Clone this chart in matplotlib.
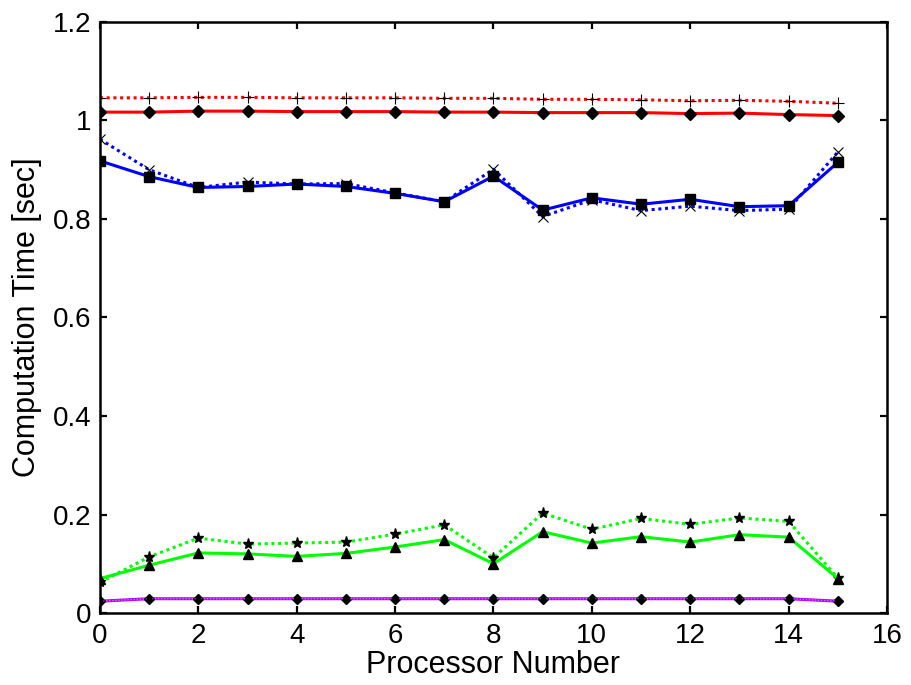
import matplotlib
matplotlib.use("Agg")
import matplotlib.pyplot as plt
import numpy as np

plt.rcParams['font.family'] = ['Liberation Sans', 'DejaVu Sans']

processors = list(range(16))
red_dotted = [1.046, 1.046, 1.047, 1.047, 1.046, 1.046, 1.046, 1.045, 1.045, 1.043, 1.043, 1.042, 1.040, 1.041, 1.039, 1.035]
red_solid = [1.017, 1.017, 1.019, 1.019, 1.018, 1.018, 1.018, 1.017, 1.017, 1.016, 1.016, 1.016, 1.014, 1.015, 1.012, 1.010]
blue_dotted = [0.962, 0.900, 0.864, 0.875, 0.871, 0.872, 0.853, 0.835, 0.901, 0.805, 0.839, 0.817, 0.826, 0.817, 0.820, 0.936]
blue_solid = [0.918, 0.886, 0.864, 0.866, 0.871, 0.866, 0.852, 0.835, 0.887, 0.818, 0.843, 0.830, 0.840, 0.825, 0.827, 0.915]
green_dotted = [0.062, 0.114, 0.152, 0.140, 0.142, 0.144, 0.160, 0.179, 0.112, 0.203, 0.170, 0.192, 0.180, 0.193, 0.186, 0.071]
green_solid = [0.070, 0.097, 0.122, 0.120, 0.115, 0.121, 0.134, 0.149, 0.100, 0.165, 0.142, 0.155, 0.144, 0.159, 0.154, 0.070]
purple_solid = [0.024, 0.029, 0.029, 0.029, 0.029, 0.029, 0.029, 0.029, 0.029, 0.029, 0.029, 0.029, 0.029, 0.029, 0.029, 0.024]
purple_dotted = [0.024, 0.029, 0.029, 0.029, 0.029, 0.029, 0.029, 0.029, 0.029, 0.029, 0.029, 0.029, 0.029, 0.029, 0.029, 0.024]

xticks = [0, 2, 4, 6, 8, 10, 12, 14, 16]
yticks = [0, 0.2, 0.4, 0.6, 0.8, 1.0, 1.2]
ytick_labels = ['0', '0.2', '0.4', '0.6', '0.8', '1', '1.2']

fig = plt.figure(figsize=(9.12, 6.85), dpi=100)
ax = fig.add_axes([0.1096, 0.1051, 0.8630, 0.8628])

lw = 2.2
ax.plot(processors, red_dotted, color='#FF0000', linestyle=(0, (1, 1.2)), linewidth=lw,
        marker='+', markersize=8, markeredgecolor='black', markeredgewidth=0.8)
ax.plot(processors, red_solid, color='#FF0000', linestyle='-', linewidth=lw,
        marker='D', markersize=6.5, markerfacecolor='black', markeredgecolor='black')
ax.plot(processors, blue_dotted, color='#0000FF', linestyle=(0, (1, 1.2)), linewidth=lw,
        marker='x', markersize=7, markeredgecolor='black', markeredgewidth=0.8)
ax.plot(processors, blue_solid, color='#0000FF', linestyle='-', linewidth=lw,
        marker='s', markersize=6.5, markerfacecolor='black', markeredgecolor='black')
ax.plot(processors, green_dotted, color='#00FF00', linestyle=(0, (1, 1.2)), linewidth=lw,
        marker='*', markersize=8, markerfacecolor='black', markeredgecolor='black')
ax.plot(processors, green_solid, color='#00FF00', linestyle='-', linewidth=lw,
        marker='^', markersize=7.5, markerfacecolor='black', markeredgecolor='black')
ax.plot(processors, purple_solid, color='#B400FF', linestyle='-', linewidth=lw,
        marker='D', markersize=5, markerfacecolor='black', markeredgecolor='black')
ax.plot(processors, purple_dotted, color='#D070FF', linestyle=(0, (1, 1.2)), linewidth=1.0,
        marker='o', markersize=3.5, markerfacecolor='black', markeredgecolor='black')

ax.set_xlim(0, 16)
ax.set_ylim(0, 1.2)
ax.set_xticks(xticks)
ax.set_yticks(yticks)
ax.set_yticklabels(ytick_labels)
ax.tick_params(direction='in', length=5, width=1.6, labelsize=20,
               top=True, right=True)
ax.tick_params(axis='x', pad=7)
ax.tick_params(axis='y', pad=6)
for s in ax.spines.values():
    s.set_linewidth(1.8)

ax.set_xlabel('Processor Number', fontsize=22, labelpad=1)
ax.set_ylabel('Computation Time [sec]', fontsize=22, labelpad=8)

fig.savefig('out.png', dpi=100)
